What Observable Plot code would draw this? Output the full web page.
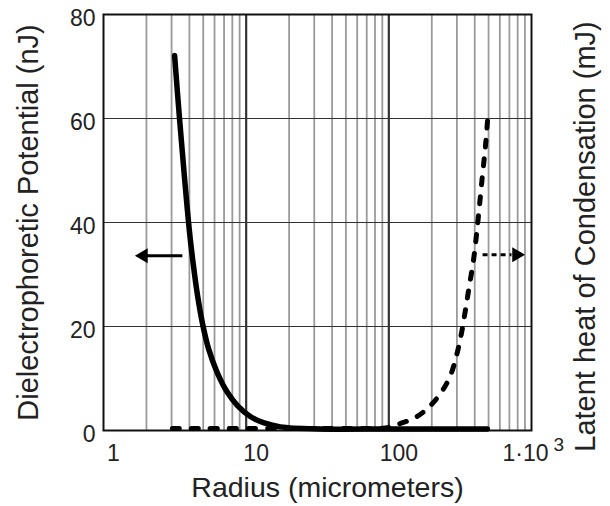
<!DOCTYPE html>
<html><head><meta charset="utf-8">
<script src="https://cdn.jsdelivr.net/npm/d3@7"></script>
<script src="https://cdn.jsdelivr.net/npm/@observablehq/plot@0.6"></script>
<style>body{margin:0;background:#fff}#chart{width:610px;height:506px}</style>
</head><body><div id="chart"></div>
<script>
// Dielectrophoretic potential (nJ), solid curve
const dieRadius = [3.15, 3.41, 3.70, 4.01, 4.27, 4.56, 4.94, 5.44, 6.30, 7.40, 8.69, 10.7, 13.2, 17.4, 33.2, 100, 300, 490];
const dieValue  = [72.1, 60, 48.5, 38.1, 31.7, 26.0, 20.6, 15.8, 11.0, 7.3, 4.8, 2.7, 1.5, 0.7, 0.3, 0.3, 0.3, 0.3];
// Latent heat of condensation (mJ), dashed curve
const latRadius = [3.04, 20, 60, 94.8, 120.7, 153.8, 195.9, 237.8, 270.5, 298, 323, 344, 367, 392, 411, 432, 453, 476, 492];
const latValue  = [0.4, 0.4, 0.4, 0.5, 1.35, 2.5, 4.8, 7.7, 10.6, 14.4, 18.7, 23.1, 27.9, 32.7, 37.5, 43.3, 49.0, 54.8, 59.6];

const xTicks = [1, 10, 100];
const xTickLabels = ["1", "10", "100"];
const xEndTick = [1000];
const xEndLabel = "1·10";
const xEndExponent = "3";
const yTicks = [0, 20, 40, 60, 80];
const minorX = [2,3,4,5,6,7,8,9,20,30,40,50,60,70,80,90,200,300,400,500,600,700,800,900];
const majorX = [10, 100];
const gridY = [20, 40, 60];

// direction arrows: [left (solid), right (dashed)]
const arrowFrom = [3.57, 454];
const arrowTo = [1.93, 724];
const arrowHead = [1.905, 785];
const arrowLevel = [33.6, 33.8];

const xLabel = "Radius (micrometers)";
const yLabel = "Dielectrophoretic Potential (nJ)";
const y2Label = "Latent heat of Condensation (mJ)";

const die = dieRadius.map((r, i) => ({r, v: dieValue[i]}));
const lat = latRadius.map((r, i) => ({r, v: latValue[i]}));

const chart = Plot.plot({
  width: 610, height: 506,
  marginLeft: 103, marginRight: 79, marginTop: 14, marginBottom: 76,
  style: {fontFamily: "'Liberation Sans', Arial, sans-serif", color: "#222", background: "#fff"},
  x: {type: "log", domain: [1, 1000]},
  y: {domain: [0, 80]},
  marks: [
    Plot.ruleX(minorX, {stroke: "#9a9a9a", strokeWidth: 1.8}),
    Plot.ruleX(majorX, {stroke: "#333", strokeWidth: 2.2}),
    Plot.ruleY(gridY, {stroke: "#333", strokeWidth: 1.2}),
    Plot.frame({stroke: "#111", strokeWidth: 2}),
    Plot.axisX({ticks: xTicks, tickFormat: d => xTickLabels[xTicks.indexOf(d)], tickSize: 0, tickPadding: 14, fontSize: 23, dx: 10, label: null}),
    Plot.axisX({ticks: xEndTick, tickFormat: () => xEndLabel, tickSize: 0, tickPadding: 14, fontSize: 23, dx: -6, label: null}),
    Plot.text(xEndTick, {x: d => d, text: () => xEndExponent, frameAnchor: "bottom", textAnchor: "start", lineAnchor: "middle", dx: 22, dy: 14, fontSize: 19, fill: "#222"}),
    Plot.axisY({ticks: yTicks, tickSize: 0, tickPadding: 8, fontSize: 23, dy: 4, label: null}),
    Plot.line(die, {x: "r", y: "v", stroke: "#000", strokeWidth: 5.5, curve: "catmull-rom"}),
    Plot.line(lat, {x: "r", y: "v", stroke: "#000", strokeWidth: 5, strokeDasharray: "7,12", strokeLinecap: "round", curve: "catmull-rom"}),
    Plot.link([0], {x1: i => arrowFrom[i], x2: i => arrowTo[i], y1: i => arrowLevel[i], y2: i => arrowLevel[i], stroke: "#000", strokeWidth: 3}),
    Plot.link([1], {x1: i => arrowFrom[i], x2: i => arrowTo[i], y1: i => arrowLevel[i], y2: i => arrowLevel[i], stroke: "#000", strokeWidth: 3, strokeDasharray: "5,4"}),
    Plot.dot([0], {x: i => arrowHead[i], y: i => arrowLevel[i], symbol: "triangle", r: 5.5, fill: "#000", stroke: "none", rotate: -90}),
    Plot.dot([1], {x: i => arrowHead[i], y: i => arrowLevel[i], symbol: "triangle", r: 5.5, fill: "#000", stroke: "none", rotate: 90}),
    Plot.text([xLabel], {text: d => d, frameAnchor: "bottom", textAnchor: "middle", lineAnchor: "middle", dx: 10, dy: 57, fontSize: 28.5, fill: "#222"}),
    Plot.text([yLabel], {text: d => d, frameAnchor: "left", rotate: -90, textAnchor: "middle", lineAnchor: "middle", dx: -75, fontSize: 29, fill: "#222"}),
    Plot.text([y2Label], {text: d => d, frameAnchor: "right", rotate: -90, textAnchor: "middle", lineAnchor: "middle", dx: 54, dy: 14, fontSize: 29, fill: "#222"})
  ]
});
document.getElementById("chart").appendChild(chart);
</script>
</body></html>
